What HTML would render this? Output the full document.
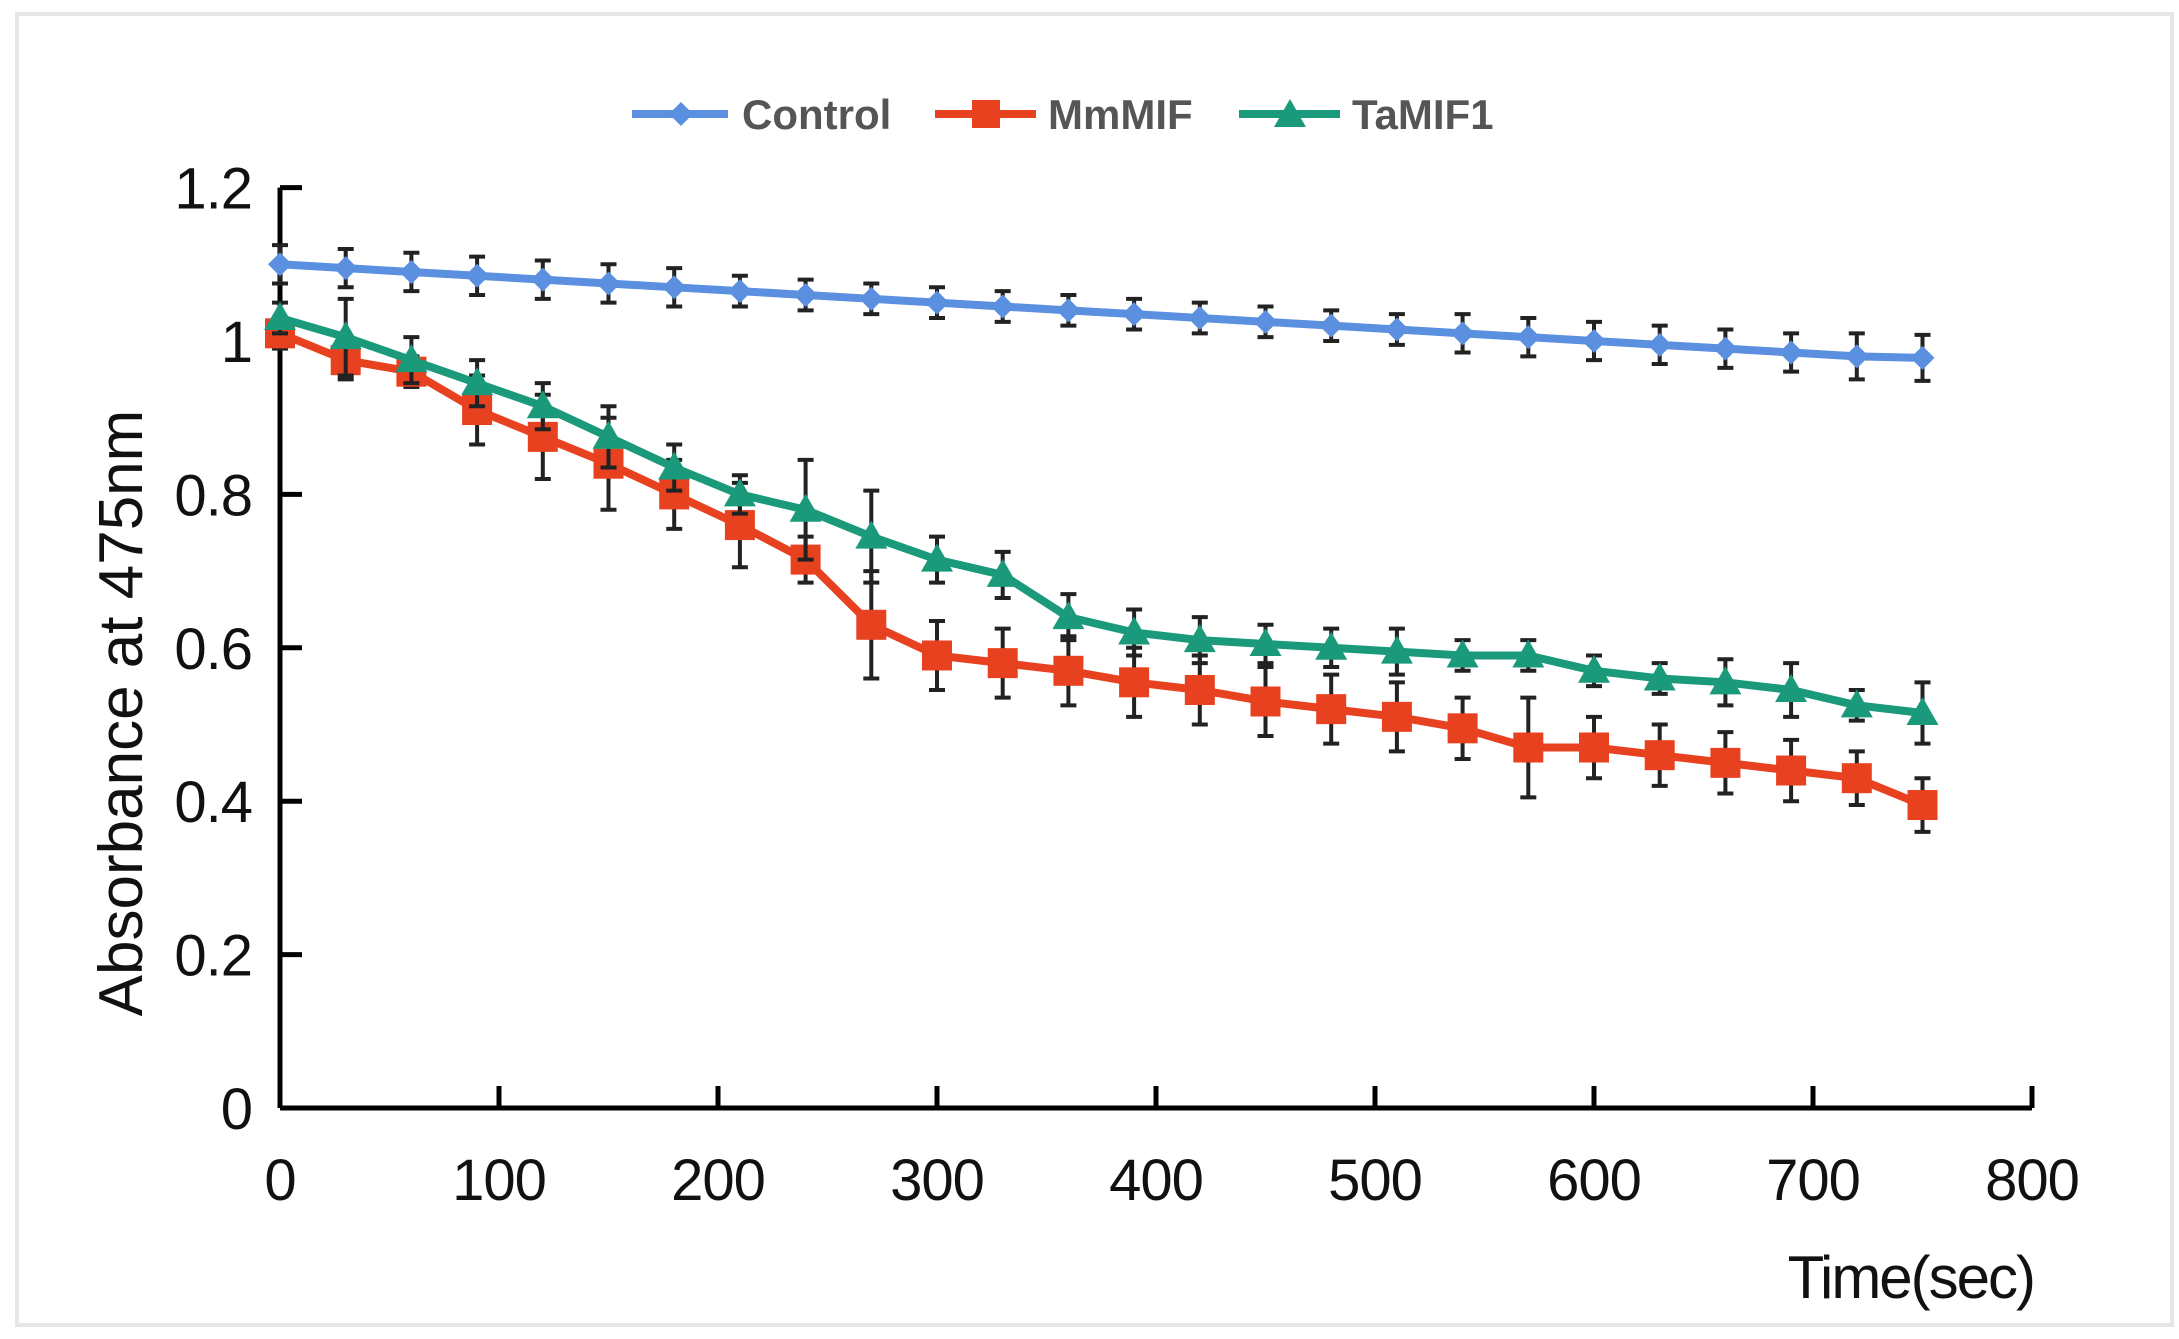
<!DOCTYPE html>
<html><head><meta charset="utf-8"><style>
body{margin:0;background:#fff;}
svg{display:block;font-family:"Liberation Sans",sans-serif;}
</style></head><body>
<svg id="chart" width="2179" height="1339" viewBox="0 0 2179 1339">
<rect x="17" y="14" width="2155" height="1311" fill="#fff" stroke="#e6e6e6" stroke-width="4"/>
<g id="legend" font-size="42" font-weight="bold" fill="#555">
 <g><line x1="632" y1="114" x2="728" y2="114" stroke="#5b8fe0" stroke-width="8"/><path d="M681 102 L693 114 L681 126 L669 114Z" fill="#5b8fe0"/><text x="742" y="129">Control</text></g>
 <g><line x1="935" y1="114" x2="1036" y2="114" stroke="#e8411f" stroke-width="8"/><rect x="972" y="100" width="28" height="28" fill="#e8411f"/><text x="1048" y="129">MmMIF</text></g>
 <g><line x1="1239" y1="114" x2="1340" y2="114" stroke="#1a9a7a" stroke-width="8"/><path d="M1290 99 L1306 127 L1274 127Z" fill="#1a9a7a"/><text x="1352" y="129">TaMIF1</text></g>
</g>
<g id="axes"></g>
<g id="series"></g>
<text transform="translate(142 713) rotate(-90)" text-anchor="middle" font-size="62" fill="#111">Absorbance at 475nm</text>
<text x="2034" y="1298" text-anchor="end" font-size="60" fill="#111" letter-spacing="-2">Time(sec)</text>
</svg>
<script>
const times=[0,30,60,90,120,150,180,210,240,270,300,330,360,390,420,450,480,510,540,570,600,630,660,690,720,750];
const controlVals=[1.10,1.095,1.09,1.085,1.08,1.075,1.07,1.065,1.06,1.055,1.05,1.045,1.04,1.035,1.03,1.025,1.02,1.015,1.01,1.005,1.0,0.995,0.99,0.985,0.98,0.978];
const controlErr=[0.025,0.025,0.025,0.025,0.025,0.025,0.025,0.02,0.02,0.02,0.02,0.02,0.02,0.02,0.02,0.02,0.02,0.02,0.025,0.025,0.025,0.025,0.025,0.025,0.03,0.03];
const mmVals=[1.01,0.975,0.96,0.91,0.875,0.84,0.80,0.76,0.715,0.63,0.59,0.58,0.57,0.555,0.545,0.53,0.52,0.51,0.495,0.47,0.47,0.46,0.45,0.44,0.43,0.395];
const mmErr=[0.02,0.025,0.02,0.045,0.055,0.06,0.045,0.055,0.03,0.07,0.045,0.045,0.045,0.045,0.045,0.045,0.045,0.045,0.04,0.065,0.04,0.04,0.04,0.04,0.035,0.035];
const taVals=[1.03,1.005,0.975,0.945,0.915,0.875,0.835,0.80,0.78,0.745,0.715,0.695,0.64,0.62,0.61,0.605,0.60,0.595,0.59,0.59,0.57,0.56,0.555,0.545,0.525,0.515];
const taErr=[0.02,0.05,0.03,0.03,0.03,0.04,0.03,0.025,0.065,0.06,0.03,0.03,0.03,0.03,0.03,0.025,0.025,0.03,0.02,0.02,0.02,0.02,0.03,0.035,0.02,0.04];
const yTicks=[0,0.2,0.4,0.6,0.8,1,1.2];
const xTicks=[0,100,200,300,400,500,600,700,800];
const NS="http://www.w3.org/2000/svg";
const X0=280,XS=2.19,Y0=1108,YS=767;
const xp=v=>X0+v*XS, yp=v=>Y0-v*YS;
function mk(tag,attrs,parent){const e=document.createElementNS(NS,tag);for(const k in attrs)e.setAttribute(k,attrs[k]);parent.appendChild(e);return e;}
const axes=document.getElementById('axes');
let e=mk('line',{x1:xp(0),y1:yp(0),x2:xp(800),y2:yp(0),stroke:'#000','stroke-width':5},axes);


e=mk('line',{x1:xp(0),y1:yp(0),x2:xp(0),y2:yp(1.2),stroke:'#000','stroke-width':5},axes);


yTicks.forEach(t=>{
 let l=mk('line',{x1:xp(0),y1:yp(t),x2:xp(0)+22,y2:yp(t),stroke:'#000','stroke-width':5},axes);
 
 
 let tx=mk('text',{x:xp(0)-28,y:yp(t)+21,'text-anchor':'end','font-size':58,fill:'#111','letter-spacing':-1},axes);
 tx.textContent=String(t);
 
 
});
xTicks.forEach(t=>{
 let l=mk('line',{x1:xp(t),y1:yp(0),x2:xp(t),y2:yp(0)-22,stroke:'#000','stroke-width':5},axes);
 
 
 let tx=mk('text',{x:xp(t),y:yp(0)+92,'text-anchor':'middle','font-size':58,fill:'#111','letter-spacing':-1},axes);
 tx.textContent=String(t);
 
 
});
const sg=document.getElementById('series');
function series(name,vals,errs,color,marker){
 const g=mk('g',{},sg);
 
 
 const pts=vals.map((v,i)=>xp(times[i])+','+yp(v)).join(' ');
 const pl=mk('polyline',{points:pts,fill:'none',stroke:color,'stroke-width':8,'stroke-linejoin':'round'},g);
 
 
 vals.forEach((v,i)=>{
  const x=xp(times[i]),y=yp(v),hi=yp(v+errs[i]),lo=yp(v-errs[i]);
  const eb=mk('path',{d:`M${x} ${hi}V${lo}M${x-8} ${hi}H${x+8}M${x-8} ${lo}H${x+8}`,stroke:'#222','stroke-width':4,fill:'none'},g);
  
  
  let m;
  if(marker==='sq') m=mk('rect',{x:x-15,y:y-15,width:30,height:30,fill:color},g);
  else if(marker==='tri') m=mk('path',{d:`M${x} ${y-16}L${x+16} ${y+12}L${x-16} ${y+12}Z`,fill:color},g);
  else m=mk('path',{d:`M${x} ${y-12}L${x+12} ${y}L${x} ${y+12}L${x-12} ${y}Z`,fill:color},g);
  
  
 });
}
series('control',controlVals,controlErr,'#5b8fe0','dia');
series('mmmif',mmVals,mmErr,'#e8411f','sq');
series('tamif1',taVals,taErr,'#1a9a7a','tri');
</script>
</body></html>
